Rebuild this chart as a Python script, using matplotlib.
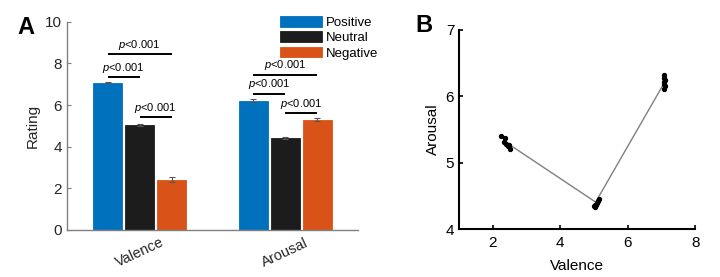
import numpy as np
import matplotlib.pyplot as plt

plt.rcParams['font.family'] = ['Liberation Sans', 'DejaVu Sans']
plt.rcParams['mathtext.fontset'] = 'custom'
plt.rcParams['mathtext.it'] = 'Liberation Sans:italic'
plt.rcParams['mathtext.rm'] = 'Liberation Sans'

# panel A data
groups = ['Valence', 'Arousal']
conditions = ['Positive', 'Neutral', 'Negative']
means = {
    'Positive': [7.08, 6.22],
    'Neutral': [5.05, 4.41],
    'Negative': [2.42, 5.30],
}
errors = {
    'Positive': [0.02, 0.06],
    'Neutral': [0.04, 0.04],
    'Negative': [0.10, 0.07],
}
colors = {'Positive': '#0072BD', 'Neutral': '#1c1c1c', 'Negative': '#D95319'}

# significance brackets: (group index, cond a, cond b, height)
sig_pairs = [
    (0, 0, 1, 7.34), (0, 0, 2, 8.45), (0, 1, 2, 5.42),
    (1, 0, 1, 6.54), (1, 0, 2, 7.45), (1, 1, 2, 5.60),
]
sig_label = r'$p$<0.001'

# panel B data: individual points per condition
neg_val = [2.25, 2.35, 2.32, 2.40, 2.45, 2.52, 2.47]
neg_aro = [5.40, 5.38, 5.31, 5.29, 5.25, 5.21, 5.27]
neu_val = [5.00, 5.04, 5.07, 5.10, 5.13, 5.16, 5.02]
neu_aro = [4.35, 4.34, 4.37, 4.39, 4.42, 4.45, 4.36]
pos_val = [7.08, 7.09, 7.10, 7.08, 7.09, 7.10, 7.08]
pos_aro = [6.32, 6.28, 6.25, 6.22, 6.18, 6.15, 6.11]
mean_val = [2.42, 5.05, 7.08]
mean_aro = [5.30, 4.41, 6.20]

fig = plt.figure(figsize=(7.2, 2.77), dpi=100)

# ---- panel A
axA = fig.add_axes([0.093, 0.170, 0.404, 0.751])
x = np.arange(1, len(groups) + 1)
offsets = [-0.22, 0.0, 0.22]
width = 0.2
for k, c in enumerate(conditions):
    axA.bar(x + offsets[k], means[c], width, color=colors[c], label=c,
            edgecolor=colors[c], linewidth=0.6, zorder=2)
    axA.errorbar(x + offsets[k], means[c], yerr=errors[c], fmt='none',
                 ecolor='#555555', elinewidth=0.8, capsize=2.5, capthick=0.8, zorder=3)

for g, a, b, h in sig_pairs:
    xa = x[g] + offsets[a]
    xb = x[g] + offsets[b]
    axA.plot([xa, xb], [h, h], color='black', lw=1.4, solid_capstyle='butt')
    axA.text((xa + xb) / 2, h + 0.12, sig_label, ha='center', va='bottom', fontsize=8)

axA.set_xlim(0.5, 2.5)
axA.set_ylim(0, 10)
axA.set_yticks([0, 2, 4, 6, 8, 10])
axA.set_xticks(x)
axA.set_xticklabels(groups, rotation=25, fontsize=10.5, color='#262626')
axA.tick_params(axis='y', direction='in', length=3, color='#808080', labelsize=11,
                labelcolor='#262626')
axA.tick_params(axis='x', length=0, pad=4)
axA.set_ylabel('Rating', fontsize=11, color='#262626')
for s in ['top', 'right']:
    axA.spines[s].set_visible(False)
for s in ['left', 'bottom']:
    axA.spines[s].set_color('#808080')
    axA.spines[s].set_linewidth(1.0)

fig.legend(loc='upper left', bbox_to_anchor=(280 / 720, 1 - 16 / 277), frameon=False,
           fontsize=9.5, handlelength=3.2, handleheight=0.85, labelspacing=0.2,
           handletextpad=0.3, borderpad=0, borderaxespad=0)

fig.text(17 / 720, 1 - 27 / 277, 'A', fontsize=17, fontweight='bold', va='center')

# ---- panel B
axB = fig.add_axes([0.6375, 0.172, 0.328, 0.720])
axB.plot(mean_val, mean_aro, color='#808080', lw=1.0, zorder=1)
for vx, vy in [(neg_val, neg_aro), (neu_val, neu_aro), (pos_val, pos_aro)]:
    axB.scatter(vx, vy, s=8, color='black', zorder=2)
axB.set_xlim(1, 8)
axB.set_ylim(4, 7)
axB.set_xticks([2, 4, 6, 8])
axB.set_yticks([4, 5, 6, 7])
axB.tick_params(direction='in', length=3, width=1.2, labelsize=11)
axB.tick_params(axis='x', pad=5)
axB.set_xlabel('Valence', fontsize=11, labelpad=6)
axB.set_ylabel('Arousal', fontsize=11)
for s in ['top', 'right']:
    axB.spines[s].set_visible(False)
for s in ['left', 'bottom']:
    axB.spines[s].set_linewidth(1.5)

fig.text(415 / 720, 1 - 25 / 277, 'B', fontsize=17, fontweight='bold', va='center')

fig.savefig('out.png', dpi=100)
